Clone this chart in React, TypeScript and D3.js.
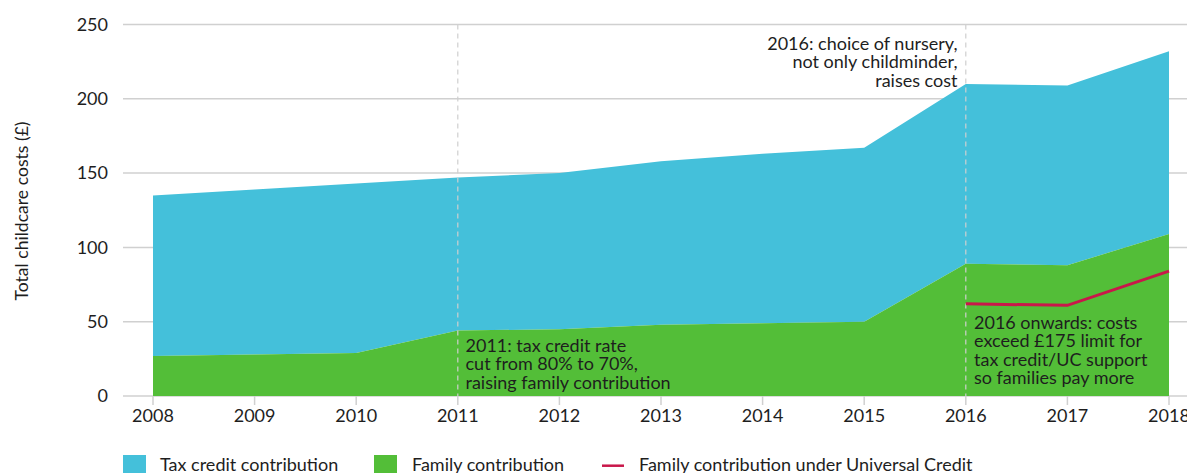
import React from "react";
import * as d3 from "d3";

const years = [2008, 2009, 2010, 2011, 2012, 2013, 2014, 2015, 2016, 2017, 2018];
const familyContribution = [27, 28, 29, 44, 45, 48, 49, 50, 89, 88, 109];
const totalCost = [135, 139, 143, 147, 150, 158, 163, 167, 210, 209, 232];
const ucYears = [2016, 2017, 2018];
const ucFamilyContribution = [62, 61, 84];
const yTicks = [0, 50, 100, 150, 200, 250];
const markerYears = [2011, 2016];

const W = 1187;
const H = 473;
const FONT = "Lato, 'Noto Sans', sans-serif";
const BLUE = "#44c0da";
const GREEN = "#53be38";
const RED = "#c9174a";
const TEXT = "#1e1e1e";
const GRID = "#d0d0d0";

export default function App() {
  const x = d3.scaleLinear().domain([2008, 2018]).range([153, 1169]);
  const y = d3.scaleLinear().domain([0, 250]).range([396, 24.5]);

  const totalArea = d3
    .area<number>()
    .x((_, i) => x(years[i]))
    .y0((_, i) => y(familyContribution[i]))
    .y1((d) => y(d))(totalCost);
  const familyArea = d3
    .area<number>()
    .x((_, i) => x(years[i]))
    .y0(() => y(0))
    .y1((d) => y(d))(familyContribution);
  const ucLine = d3
    .line<number>()
    .x((_, i) => x(ucYears[i]))
    .y((d) => y(d))(ucFamilyContribution);

  const ann = (lines: string[], px: number, py: number, anchor: string) => (
    <text x={px} y={py} textAnchor={anchor} fontSize={18} fill={TEXT} fontFamily={FONT}>
      {lines.map((l, i) => (
        <tspan key={i} x={px} dy={i === 0 ? 0 : 18.3}>
          {l}
        </tspan>
      ))}
    </text>
  );

  return (
    <svg width={W} height={H} style={{ position: "absolute", left: 0, top: 0 }} fontFamily={FONT}>
      <rect width={W} height={H} fill="#fff" />
      {yTicks.map((t) => (
        <g key={t}>
          <line x1={123} x2={W} y1={y(t)} y2={y(t)} stroke={GRID} strokeWidth={1.5} />
          <text x={108} y={y(t)} dy="0.35em" textAnchor="end" fontSize={18} fill={TEXT}>
            {t}
          </text>
        </g>
      ))}
      <path d={totalArea || ""} fill={BLUE} />
      <path d={familyArea || ""} fill={GREEN} />
      {markerYears.map((m) => (
        <line
          key={m}
          x1={x(m)}
          x2={x(m)}
          y1={y(250)}
          y2={y(0)}
          stroke="#cfcfcf"
          strokeWidth={1.2}
          strokeDasharray="5,4"
        />
      ))}
      <path d={ucLine || ""} fill="none" stroke={RED} strokeWidth={3} />
      {years.map((yr) => (
        <g key={yr}>
          <line x1={x(yr)} x2={x(yr)} y1={396} y2={405} stroke={GRID} strokeWidth={1.5} />
          <text x={x(yr)} y={421.5} textAnchor="middle" fontSize={18} fill={TEXT}>
            {yr}
          </text>
        </g>
      ))}
      <text
        transform={`translate(27.5,211) rotate(-90)`}
        textAnchor="middle"
        fontSize={17.6}
        fill={TEXT}
      >
        Total childcare costs (£)
      </text>
      {ann(["2016: choice of nursery,", "not only childminder,", "raises cost"], 957.5, 50, "end")}
      {ann(["2011: tax credit rate", "cut from 80% to 70%,", "raising family contribution"], 465.5, 352, "start")}
      {ann(
        ["2016 onwards: costs", "exceed £175 limit for", "tax credit/UC support", "so families pay more"],
        974,
        329,
        "start"
      )}
      <rect x={123} y={455} width={23} height={23} fill={BLUE} />
      <text x={160} y={471.3} fontSize={18} fill={TEXT}>
        Tax credit contribution
      </text>
      <rect x={374} y={455} width={23} height={23} fill={GREEN} />
      <text x={412} y={471.3} fontSize={18} fill={TEXT}>
        Family contribution
      </text>
      <line x1={602} x2={624} y1={465.7} y2={465.7} stroke={RED} strokeWidth={2.5} />
      <text x={639} y={471.3} fontSize={18} fill={TEXT}>
        Family contribution under Universal Credit
      </text>
    </svg>
  );
}
